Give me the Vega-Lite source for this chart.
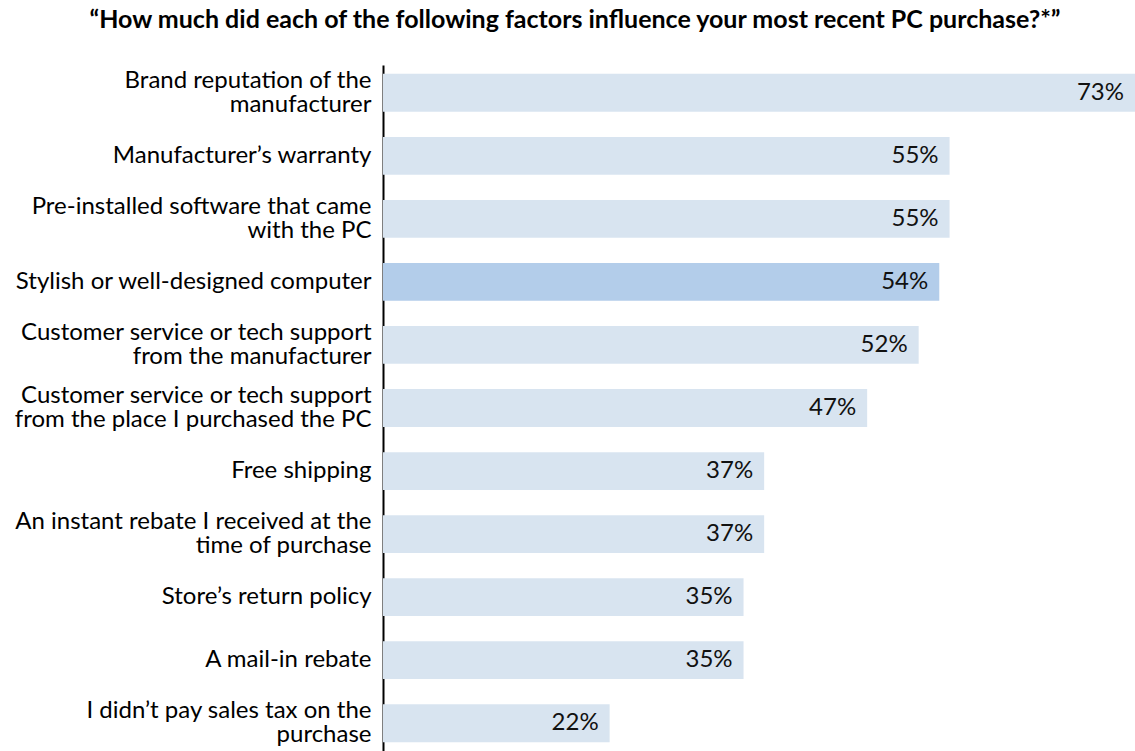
{
  "$schema": "https://vega.github.io/schema/vega-lite/v6.json",
  "width": 752,
  "height": 686,
  "autosize": {"type": "none"},
  "padding": {"left": 383, "top": 65, "right": 0, "bottom": 0},
  "title": {
    "text": "“How much did each of the following factors influence your most recent PC purchase?*”",
    "anchor": "middle",
    "frame": "group",
    "dx": -184,
    "offset": 12,
    "baseline": "alphabetic",
    "font": "Lato",
    "fontSize": 25,
    "fontWeight": "bold",
    "color": "#000000"
  },
  "data": {
    "values": [
      {"factor": "Brand reputation of the|manufacturer", "share": 0.73, "hl": "no"},
      {"factor": "Manufacturer’s warranty", "share": 0.55, "hl": "no"},
      {"factor": "Pre-installed software that came|with the PC", "share": 0.55, "hl": "no"},
      {"factor": "Stylish or well-designed computer", "share": 0.54, "hl": "yes"},
      {"factor": "Customer service or tech support|from the manufacturer", "share": 0.52, "hl": "no"},
      {"factor": "Customer service or tech support|from the place I purchased the PC", "share": 0.47, "hl": "no"},
      {"factor": "Free shipping", "share": 0.37, "hl": "no"},
      {"factor": "An instant rebate I received at the|time of purchase", "share": 0.37, "hl": "no"},
      {"factor": "Store’s return policy", "share": 0.35, "hl": "no"},
      {"factor": "A mail-in rebate", "share": 0.35, "hl": "no"},
      {"factor": "I didn’t pay sales tax on the|purchase", "share": 0.22, "hl": "no"}
    ]
  },
  "encoding": {
    "y": {
      "field": "factor",
      "type": "nominal",
      "sort": null,
      "scale": {"paddingInner": 0.4, "paddingOuter": 0.14},
      "axis": {
        "title": null,
        "domain": true,
        "domainColor": "#000000",
        "domainWidth": 2,
        "ticks": false,
        "labelFont": "Lato",
        "labelFontSize": 24,
        "labelColor": "#000000",
        "labelPadding": 12,
        "labelLimit": 0,
        "labelLineHeight": 24,
        "labelOffset": {"condition": {"test": "indexof(datum.value, '|') >= 0", "value": -12}, "value": 0},
        "labelExpr": "split(datum.label, '|')"
      }
    },
    "x": {
      "field": "share",
      "type": "quantitative",
      "scale": {"domain": [0, 0.73]},
      "axis": null
    }
  },
  "layer": [
    {
      "mark": {"type": "bar"},
      "encoding": {
        "color": {
          "field": "hl",
          "type": "nominal",
          "scale": {"domain": ["no", "yes"], "range": ["#d8e4f0", "#b3cdea"]},
          "legend": null
        }
      }
    },
    {
      "mark": {"type": "text", "align": "right", "baseline": "middle", "dx": -11, "font": "Lato", "fontSize": 24, "color": "#111111"},
      "encoding": {
        "text": {"field": "share", "type": "quantitative", "format": ".0%"}
      }
    }
  ],
  "config": {"view": {"stroke": null}}
}
